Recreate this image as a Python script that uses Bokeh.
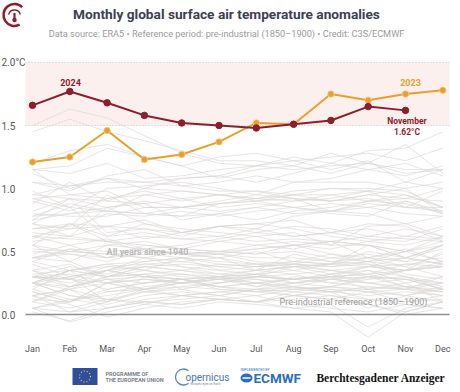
from bokeh.plotting import figure
from bokeh.models import Range1d, LinearAxis, FixedTicker, Label
from bokeh.core.properties import value
from bokeh.embed import file_html
from bokeh.resources import INLINE

# ---------------- data ----------------
months = ["Jan", "Feb", "Mar", "Apr", "May", "Jun", "Jul", "Aug", "Sep", "Oct", "Nov", "Dec"]
month_idx = list(range(12))

anom_2023 = [1.21, 1.25, 1.46, 1.23, 1.27, 1.37, 1.52, 1.51, 1.75, 1.70, 1.75, 1.78]
anom_2024 = [1.66, 1.77, 1.68, 1.58, 1.52, 1.50, 1.48, 1.51, 1.54, 1.65, 1.62]

years_1940s = [
    [0.30, 0.25, 0.35, 0.42, 0.45, 0.40, 0.38, 0.40, 0.45, 0.48, 0.42, 0.55],
    [0.50, 0.48, 0.42, 0.50, 0.48, 0.45, 0.50, 0.42, 0.40, 0.55, 0.45, 0.40],
    [0.35, 0.22, 0.30, 0.38, 0.35, 0.32, 0.30, 0.28, 0.30, 0.32, 0.35, 0.38],
    [0.25, 0.35, 0.30, 0.35, 0.32, 0.30, 0.35, 0.38, 0.40, 0.50, 0.45, 0.52],
    [0.55, 0.50, 0.48, 0.45, 0.50, 0.48, 0.52, 0.55, 0.58, 0.55, 0.45, 0.40],
    [0.40, 0.30, 0.35, 0.45, 0.38, 0.32, 0.35, 0.48, 0.42, 0.40, 0.30, 0.22],
    [0.30, 0.28, 0.25, 0.32, 0.20, 0.15, 0.20, 0.18, 0.22, 0.20, 0.25, 0.10],
    [0.18, 0.10, 0.25, 0.28, 0.25, 0.30, 0.22, 0.25, 0.28, 0.35, 0.30, 0.20],
    [0.25, 0.15, 0.10, 0.30, 0.28, 0.22, 0.18, 0.20, 0.22, 0.18, 0.15, 0.10],
    [0.15, 0.20, 0.12, 0.18, 0.15, 0.12, 0.10, 0.18, 0.15, 0.12, 0.08, 0.05],
]
years_1950s = [
    [0.02, -0.05, 0.05, 0.10, 0.12, 0.15, 0.10, 0.12, 0.15, 0.08, 0.02, 0.10],
    [0.05, 0.02, 0.10, 0.18, 0.20, 0.25, 0.30, 0.28, 0.32, 0.35, 0.25, 0.30],
    [0.30, 0.28, 0.20, 0.25, 0.28, 0.22, 0.25, 0.28, 0.30, 0.20, 0.15, 0.20],
    [0.25, 0.30, 0.35, 0.30, 0.32, 0.28, 0.30, 0.28, 0.30, 0.32, 0.22, 0.25],
    [0.10, 0.20, 0.05, 0.10, 0.08, 0.12, 0.10, 0.05, 0.08, -0.10, 0.05, 0.10],
    [0.15, 0.08, -0.02, 0.05, 0.10, 0.12, 0.10, 0.15, 0.12, 0.08, 0.00, 0.05],
    [0.05, -0.06, 0.02, 0.08, 0.05, 0.10, 0.08, 0.05, 0.02, -0.18, 0.02, 0.10],
    [0.05, 0.12, 0.15, 0.20, 0.25, 0.28, 0.22, 0.30, 0.28, 0.30, 0.35, 0.40],
    [0.45, 0.42, 0.30, 0.32, 0.35, 0.30, 0.32, 0.28, 0.25, 0.30, 0.28, 0.25],
    [0.30, 0.28, 0.35, 0.30, 0.28, 0.25, 0.30, 0.32, 0.25, 0.22, 0.20, 0.25],
]
years_1960s = [
    [0.22, 0.30, 0.10, 0.20, 0.25, 0.22, 0.20, 0.25, 0.28, 0.25, 0.20, 0.30],
    [0.25, 0.35, 0.30, 0.32, 0.28, 0.30, 0.25, 0.28, 0.32, 0.25, 0.28, 0.20],
    [0.30, 0.32, 0.25, 0.28, 0.25, 0.30, 0.28, 0.25, 0.22, 0.28, 0.30, 0.25],
    [0.20, 0.35, 0.18, 0.22, 0.25, 0.28, 0.30, 0.38, 0.40, 0.42, 0.38, 0.30],
    [0.25, 0.15, 0.12, 0.10, 0.08, 0.12, 0.15, 0.08, 0.05, 0.02, 0.08, 0.05],
    [0.10, 0.05, 0.12, 0.08, 0.15, 0.12, 0.10, 0.15, 0.12, 0.18, 0.10, 0.15],
    [0.15, 0.20, 0.25, 0.18, 0.22, 0.25, 0.28, 0.22, 0.20, 0.18, 0.20, 0.15],
    [0.18, 0.10, 0.25, 0.20, 0.28, 0.22, 0.25, 0.20, 0.22, 0.30, 0.22, 0.20],
    [0.10, 0.22, 0.28, 0.20, 0.15, 0.18, 0.15, 0.20, 0.18, 0.22, 0.20, 0.18],
    [0.25, 0.20, 0.30, 0.38, 0.40, 0.38, 0.35, 0.32, 0.35, 0.38, 0.40, 0.42],
]
years_1970s = [
    [0.35, 0.40, 0.28, 0.30, 0.25, 0.28, 0.25, 0.22, 0.28, 0.25, 0.22, 0.18],
    [0.20, 0.12, 0.08, 0.15, 0.18, 0.15, 0.20, 0.22, 0.18, 0.20, 0.22, 0.18],
    [0.05, 0.10, 0.20, 0.25, 0.28, 0.30, 0.32, 0.35, 0.30, 0.38, 0.35, 0.42],
    [0.45, 0.50, 0.48, 0.45, 0.42, 0.45, 0.40, 0.38, 0.35, 0.30, 0.28, 0.20],
    [0.12, 0.10, 0.18, 0.20, 0.22, 0.20, 0.18, 0.22, 0.18, 0.15, 0.18, 0.15],
    [0.25, 0.22, 0.28, 0.25, 0.28, 0.20, 0.18, 0.15, 0.20, 0.12, 0.10, 0.12],
    [0.15, 0.02, 0.05, 0.12, 0.15, 0.18, 0.20, 0.15, 0.18, 0.05, 0.15, 0.22],
    [0.25, 0.35, 0.40, 0.42, 0.45, 0.48, 0.42, 0.40, 0.35, 0.32, 0.40, 0.38],
    [0.32, 0.35, 0.38, 0.35, 0.30, 0.28, 0.32, 0.25, 0.30, 0.28, 0.35, 0.38],
    [0.30, 0.22, 0.35, 0.38, 0.35, 0.40, 0.38, 0.42, 0.48, 0.45, 0.50, 0.62],
]
years_1980s = [
    [0.45, 0.52, 0.45, 0.55, 0.52, 0.50, 0.48, 0.50, 0.45, 0.42, 0.50, 0.42],
    [0.62, 0.55, 0.60, 0.52, 0.48, 0.50, 0.52, 0.55, 0.48, 0.42, 0.45, 0.55],
    [0.30, 0.38, 0.32, 0.40, 0.42, 0.38, 0.40, 0.35, 0.40, 0.38, 0.45, 0.55],
    [0.65, 0.62, 0.58, 0.55, 0.52, 0.50, 0.48, 0.55, 0.58, 0.45, 0.52, 0.42],
    [0.42, 0.35, 0.40, 0.35, 0.45, 0.35, 0.38, 0.40, 0.38, 0.42, 0.32, 0.28],
    [0.35, 0.28, 0.38, 0.40, 0.38, 0.35, 0.32, 0.40, 0.38, 0.40, 0.35, 0.38],
    [0.45, 0.48, 0.45, 0.48, 0.45, 0.42, 0.40, 0.42, 0.40, 0.45, 0.42, 0.45],
    [0.48, 0.55, 0.45, 0.52, 0.55, 0.60, 0.65, 0.62, 0.65, 0.60, 0.58, 0.68],
    [0.72, 0.62, 0.70, 0.68, 0.65, 0.62, 0.58, 0.60, 0.58, 0.55, 0.50, 0.55],
    [0.42, 0.52, 0.50, 0.52, 0.48, 0.50, 0.55, 0.58, 0.55, 0.55, 0.50, 0.58],
]
years_1990s = [
    [0.58, 0.62, 0.85, 0.72, 0.68, 0.65, 0.62, 0.65, 0.55, 0.70, 0.72, 0.62],
    [0.68, 0.72, 0.62, 0.72, 0.65, 0.70, 0.72, 0.68, 0.62, 0.58, 0.55, 0.62],
    [0.62, 0.60, 0.58, 0.50, 0.48, 0.45, 0.35, 0.38, 0.32, 0.38, 0.35, 0.50],
    [0.52, 0.50, 0.55, 0.52, 0.48, 0.48, 0.45, 0.45, 0.42, 0.45, 0.38, 0.48],
    [0.55, 0.42, 0.55, 0.58, 0.52, 0.58, 0.55, 0.52, 0.58, 0.62, 0.68, 0.62],
    [0.75, 0.92, 0.65, 0.68, 0.62, 0.70, 0.72, 0.75, 0.65, 0.72, 0.70, 0.58],
    [0.60, 0.72, 0.58, 0.62, 0.60, 0.58, 0.62, 0.55, 0.52, 0.58, 0.62, 0.60],
    [0.62, 0.68, 0.70, 0.60, 0.65, 0.70, 0.68, 0.78, 0.82, 0.88, 0.85, 0.82],
    [0.88, 1.05, 0.90, 1.00, 0.98, 0.95, 0.98, 0.92, 0.82, 0.80, 0.72, 0.78],
    [0.72, 0.85, 0.62, 0.65, 0.60, 0.62, 0.68, 0.62, 0.65, 0.68, 0.62, 0.70],
]
years_2000s = [
    [0.55, 0.72, 0.70, 0.75, 0.65, 0.70, 0.65, 0.70, 0.68, 0.62, 0.60, 0.58],
    [0.72, 0.68, 0.80, 0.78, 0.82, 0.78, 0.82, 0.85, 0.80, 0.78, 0.90, 0.82],
    [0.92, 0.95, 0.98, 0.85, 0.85, 0.88, 0.90, 0.85, 0.88, 0.85, 0.90, 0.80],
    [0.92, 0.85, 0.82, 0.80, 0.85, 0.82, 0.85, 0.90, 0.92, 0.98, 0.85, 0.98],
    [0.82, 0.92, 0.85, 0.88, 0.75, 0.80, 0.75, 0.82, 0.85, 0.90, 0.95, 0.85],
    [0.90, 0.82, 0.92, 0.95, 0.90, 0.95, 0.92, 0.90, 0.95, 0.98, 0.95, 0.85],
    [0.78, 0.88, 0.82, 0.80, 0.78, 0.88, 0.90, 0.92, 0.90, 0.95, 0.92, 1.00],
    [1.15, 0.95, 0.92, 0.98, 0.92, 0.85, 0.88, 0.85, 0.82, 0.85, 0.80, 0.78],
    [0.68, 0.70, 0.95, 0.80, 0.78, 0.80, 0.85, 0.80, 0.82, 0.90, 0.88, 0.80],
    [0.80, 0.78, 0.78, 0.85, 0.85, 0.88, 0.92, 0.95, 0.95, 0.90, 0.92, 0.90],
]
years_2010s = [
    [0.95, 1.02, 1.05, 1.05, 1.02, 0.98, 0.98, 0.95, 0.90, 0.95, 1.00, 0.80],
    [0.75, 0.80, 0.85, 0.90, 0.85, 0.90, 0.95, 0.92, 0.90, 0.92, 0.85, 0.85],
    [0.78, 0.80, 0.82, 0.95, 0.98, 0.95, 0.92, 0.98, 1.00, 1.00, 0.98, 0.85],
    [0.95, 0.92, 0.90, 0.88, 0.92, 0.95, 0.90, 0.95, 1.00, 0.98, 1.05, 1.00],
    [0.98, 0.85, 1.00, 1.02, 1.05, 1.00, 0.95, 1.05, 1.05, 1.05, 1.00, 1.05],
    [1.05, 1.02, 1.08, 1.00, 1.08, 1.10, 1.05, 1.12, 1.20, 1.30, 1.32, 1.45],
    [1.50, 1.63, 1.56, 1.42, 1.28, 1.20, 1.18, 1.25, 1.20, 1.15, 1.20, 1.10],
    [1.20, 1.30, 1.35, 1.25, 1.18, 1.08, 1.15, 1.18, 1.12, 1.20, 1.12, 1.15],
    [1.05, 0.98, 1.10, 1.15, 1.02, 1.05, 1.10, 1.05, 1.08, 1.15, 1.10, 1.18],
    [1.15, 1.18, 1.32, 1.25, 1.18, 1.25, 1.28, 1.22, 1.25, 1.28, 1.22, 1.32],
]
years_2020s = [
    [1.45, 1.55, 1.45, 1.38, 1.30, 1.22, 1.22, 1.18, 1.28, 1.20, 1.35, 1.12],
    [1.12, 1.00, 1.08, 1.05, 1.08, 1.10, 1.18, 1.15, 1.18, 1.20, 1.15, 1.15],
    [1.15, 1.12, 1.20, 1.08, 1.10, 1.15, 1.18, 1.22, 1.15, 1.22, 1.05, 1.15],
]

y_ticks = [0.0, 0.5, 1.0, 1.5, 2.0]
y_tick_labels = ["0.0", "0.5", "1.0", "1.5", "2.0°C"]
band_low, band_high = 1.5, 2.0
zero_ref = 0.0

# ---------------- layout helpers (pixel -> data) ----------------
PX_X0, PX_PER_MONTH = 32.0, 37.3     # pixel x of Jan, px per month
PX_Y0, PX_PER_DEG = 314.0, 126.0     # pixel y of 0.0 °C, px per °C
def xd(px):
    return (px - PX_X0) / PX_PER_MONTH
def yd(py):
    return (PX_Y0 - py) / PX_PER_DEG

W, H = 460, 392
p = figure(width=W, height=H, output_backend="svg", toolbar_location=None,
           x_range=Range1d(xd(0), xd(W)), y_range=Range1d(yd(H), yd(0)),
           x_axis_type=None, y_axis_type=None, min_border=0)
p.outline_line_color = None
p.background_fill_color = "white"
p.border_fill_color = "white"

FONT = value("Roboto")
xl, xr = xd(25), xd(449)

# band 1.5-2.0
p.quad(left=[xl], right=[xr], bottom=[band_low], top=[band_high],
       fill_color="#fcf0ee", line_color=None)
# dotted grid lines at 1.5 and 2.0
p.segment(x0=[xl, xl], x1=[xr, xr], y0=[band_low, band_high], y1=[band_low, band_high],
          line_color="#c4c4c4", line_width=1, line_dash="1 2")

# grey lines: all years since 1940
all_years = years_1940s + years_1950s + years_1960s + years_1970s + years_1980s + \
    years_1990s + years_2000s + years_2010s + years_2020s
p.multi_line(xs=[month_idx] * len(all_years), ys=all_years,
             line_color="#d9d5d4", line_width=0.9, line_alpha=0.7)

# zero reference line
p.segment(x0=[xl], x1=[xr], y0=[zero_ref], y1=[zero_ref], line_color="#8f8f8f", line_width=1.4)

# 2023 and 2024
c23, c24 = "#e89f2c", "#8d1f2d"
p.line(month_idx, anom_2023, line_color=c23, line_width=2)
p.scatter(month_idx, anom_2023, size=6.5, fill_color=c23, line_color="#f4cf8e", line_width=0.8)
p.line(month_idx[:len(anom_2024)], anom_2024, line_color=c24, line_width=2)
p.scatter(month_idx[:len(anom_2024)], anom_2024, size=6.5, fill_color=c24, line_color=c24)

# y tick labels
p.text(x=[xd(1)] * len(y_ticks), y=y_ticks, text=y_tick_labels, text_font=FONT,
       text_font_size="10px", text_color="#5a5a5a", text_align="left", text_baseline="middle")

# x axis (months) placed inside the frame
xax = LinearAxis(fixed_location=yd(341), ticker=FixedTicker(ticks=month_idx),
                 major_label_overrides={i: m for i, m in zip(month_idx, months)})
xax.axis_line_color = None
xax.major_tick_line_color = None
xax.minor_tick_line_color = None
xax.major_tick_out = 0
xax.major_tick_in = 0
xax.major_label_standoff = 2
xax.major_label_text_font = "Roboto"
xax.major_label_text_font_size = "9px"
xax.major_label_text_color = "#555555"
p.add_layout(xax, "below")

def lab(px, py, text, size, color, style="normal", align="center", font="Roboto"):
    p.add_layout(Label(x=xd(px), y=yd(py), text=text, text_font=font, text_font_size=size,
                       text_color=color, text_font_style=style, text_align=align,
                       text_baseline="middle"))

# series annotations
lab(70, 82, "2024", "9px", c24, "bold")
lab(410, 82, "2023", "9px", c23, "bold")
lab(406.5, 120.5, "November", "8.5px", c24, "bold")
lab(406.5, 131.5, "1.62°C", "8.5px", c24, "bold")
lab(147, 251, "All years since 1940", "9px", "#bdb9b9", "bold")
lab(353, 301, "Pre-industrial reference (1850–1900)", "9px", "#9a9a9a")

# title / subtitle
lab(226, 13, "Monthly global surface air temperature anomalies", "13.7px", "#3a4252", "bold")
lab(226, 33, "Data source: ERA5 • Reference period: pre-industrial (1850–1900) • Credit: C3S/ECMWF",
    "9.2px", "#9c9c9c")

# icon (top-left)
icon_c = "#8d1f2d"
p.arc(x=[xd(14)], y=[yd(14.5)], radius=11, radius_units="screen", start_angle=0.8, end_angle=5.2,
      direction="anticlock", line_color=icon_c, line_width=2.5)
p.arc(x=[xd(14)], y=[yd(15.5)], radius=6, radius_units="screen", start_angle=0.25, end_angle=2.9,
      direction="anticlock", line_color=icon_c, line_width=1.3)
p.segment(x0=[xd(14)], x1=[xd(14)], y0=[yd(12.5)], y1=[yd(18.5)], line_color=icon_c, line_width=2.2)
p.scatter(x=[xd(14)], y=[yd(19.5)], size=4.5, fill_color=icon_c, line_color=None)

# footer logos
p.quad(left=[xd(72)], right=[xd(97)], top=[yd(367.5)], bottom=[yd(384.5)],
       fill_color="#2f4f9d", line_color=None)
p.scatter(x=[xd(84.5)], y=[yd(376)], size=11, fill_alpha=0, line_color="#f2d23c",
          line_width=1.1, line_dash="1 2")
lab(105, 373.5, "PROGRAMME OF", "5.5px", "#7a8190", "bold", align="left")
lab(105, 379.5, "THE EUROPEAN UNION", "5.5px", "#7a8190", "bold", align="left")

p.arc(x=[xd(183)], y=[yd(376.5)], radius=8, radius_units="screen", start_angle=0.9, end_angle=5.4,
      direction="anticlock", line_color="#5d88bb", line_width=1.3)
lab(185, 376.5, "opernicus", "10px", "#4a76a8", align="left")
lab(205, 383, "Europe's eyes on Earth", "3px", "#7a8fa8")

p.ellipse(x=[xd(246)], y=[yd(377.5)], width=12, height=9, width_units="screen", height_units="screen",
          fill_color="#2a6fc2", line_color=None)
p.segment(x0=[xd(242)], x1=[xd(250)], y0=[yd(377.5)], y1=[yd(377.5)], line_color="white", line_width=1.6)
lab(240, 369, "IMPLEMENTED BY", "3.5px", "#2a6fc2", align="left")
lab(253, 377.5, "ECMWF", "13.5px", "#2a6fc2", "bold", align="left")

lab(380.5, 377, "Berchtesgadener Anzeiger", "11.5px", "#111111", "bold", font="Liberation Serif")

open("out.html", "w").write(file_html(p, INLINE))
